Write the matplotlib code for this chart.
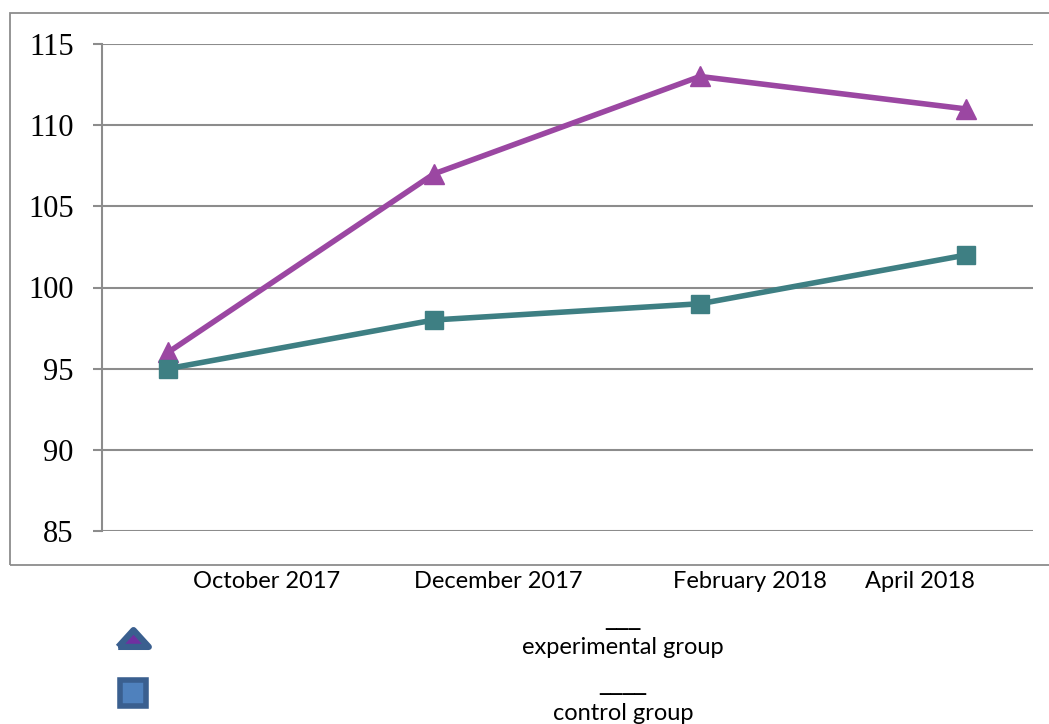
import numpy as np
import matplotlib.pyplot as plt
from matplotlib.patches import Rectangle

# data
months = ['October 2017', 'December 2017', 'February 2018', 'April 2018']
experimental = [96, 107, 113, 111]
control = [95, 98, 99, 102]
y_ticks = [85, 90, 95, 100, 105, 110, 115]

W, H = 1049, 724
fig = plt.figure(figsize=(W / 100, H / 100), dpi=100)

# outer frame of the chart
fig.add_artist(Rectangle((10 / W, 1 - 565 / H), (W + 5 - 10) / W, (565 - 13) / H,
                         transform=fig.transFigure, fill=False, edgecolor='#8c8c8c', lw=1.3))

ax = fig.add_axes([102 / W, 1 - 531 / H, (1033 - 102) / W, (531 - 44) / H])
x = np.arange(len(months))
ax.plot(x, experimental, color='#9B47A2', lw=4, marker='^', ms=14, mec='#9B47A2', zorder=3)
ax.plot(x, control, color='#3E7F83', lw=4, marker='s', ms=13, mec='#3E7F83', zorder=3)

ax.set_xlim(-0.248, 3.252)
ax.set_ylim(85, 115)
ax.set_yticks(y_ticks)
ax.set_yticklabels([str(v) for v in y_ticks], family='Liberation Serif', fontsize=22)
ax.set_xticks([])
ax.grid(axis='y', color='#8c8c8c', lw=1.5)
ax.set_axisbelow(True)
for s in ['top', 'right', 'bottom']:
    ax.spines[s].set_visible(False)
ax.spines['left'].set_color('#8c8c8c')
ax.spines['left'].set_linewidth(1.5)
ax.tick_params(axis='y', length=6.5, width=1.5, color='#8c8c8c', pad=14)

# category labels (offset from the points, as in the original)
label_x = [267, 498, 750, 920]
for lx, m in zip(label_x, months):
    fig.text(lx / W, 1 - 582 / H, m, ha='center', va='center', family='Lato', fontsize=17)

# legend
ov = fig.add_axes([0, 0, 1, 1])
ov.set_xlim(0, W)
ov.set_ylim(H, 0)
ov.axis('off')
tri = [(-1, -0.55), (1, -0.55), (0, 0.55), (-1, -0.55)]
ov.plot([133], [638], marker=tri, ms=22, mfc='#7030A0', mec='#3A5F8F', mew=4.5,
        solid_joinstyle='round')
ov.plot([133], [693], marker='s', ms=19, mfc='#4F81BD', mec='#3A5F8F', mew=4)
fig.text(623 / W, 1 - 618 / H, '___', ha='center', va='center', family='DejaVu Sans', fontsize=17)
fig.text(623 / W, 1 - 648 / H, 'experimental group', ha='center', va='center', family='Lato', fontsize=17)
fig.text(623 / W, 1 - 683 / H, '____', ha='center', va='center', family='DejaVu Sans', fontsize=17)
fig.text(623 / W, 1 - 713 / H, 'control group', ha='center', va='center', family='Lato', fontsize=17)

plt.savefig('out.png', dpi=100)
